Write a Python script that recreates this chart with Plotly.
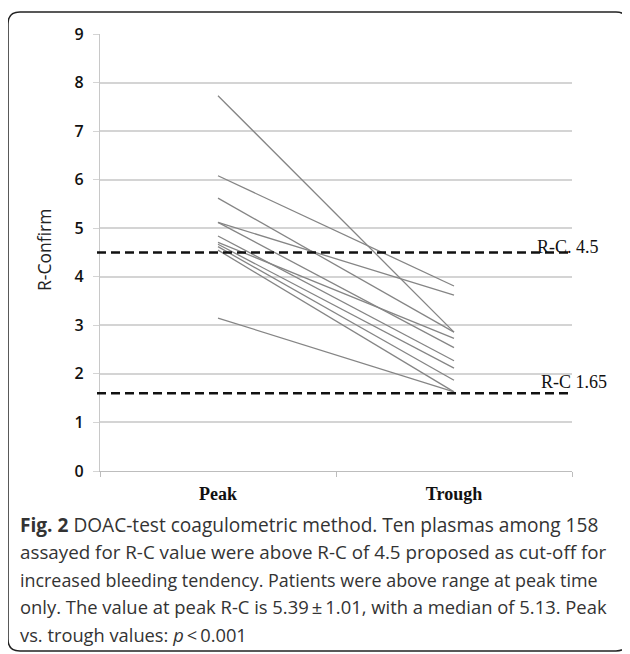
import plotly.graph_objects as go

# ---- data ----
categories = ["Peak", "Trough"]
peak_values = [7.73, 6.08, 5.62, 5.12, 5.12, 4.84, 4.71, 4.67, 4.62, 4.55, 3.15]
trough_values = [2.86, 3.81, 2.86, 3.62, 2.54, 2.27, 2.73, 2.12, 1.87, 1.63, 1.63]
cutoff_values = [4.5, 1.6]
cutoff_labels = ["R-C. 4.5", "R-C 1.65"]
y_ticks = list(range(0, 10))
caption_lines = [
    "<b>Fig. 2</b> DOAC-test coagulometric method. Ten plasmas among 158",
    "assayed for R-C value were above R-C of 4.5 proposed as cut-off for",
    "increased bleeding tendency. Patients were above range at peak time",
    "only. The value at peak R-C is 5.39\u2009\u00b1\u20091.01, with a median of 5.13. Peak",
    "vs. trough values: <i>p</i>\u2009<\u20090.001",
]
caption_sizes = [19.1, 18.8, 17.9, 18.4, 18.3]

# page body has an 8px margin, so work in page pixels and shift by OFF
OFF = 8
W, H = 630 - OFF, 654 - OFF
PL, PR, PT, PB = 100, 572, 34, 471  # plot area in page pixels
ML, MR, MT, MB = PL - OFF, 630 - PR, PT - OFF, 654 - PB


def px(x):
    return (x - PL) / (PR - PL)


def py(y):
    return (PB - y) / (PB - PT)


fig = go.Figure()
for p, t in zip(peak_values, trough_values):
    fig.add_trace(go.Scatter(
        x=categories, y=[p, t], mode="lines",
        line=dict(color="#858585", width=1.3),
        showlegend=False, hoverinfo="skip"))

shapes = []
for v in cutoff_values:
    shapes.append(dict(type="line", xref="paper", yref="y",
                       x0=px(97), x1=px(570), y0=v, y1=v,
                       line=dict(color="#111111", width=2.5, dash="9px,5px")))

# rounded border
bx0, by0, bx1, by1, r = 8, 12, 628, 651, 12


def P(x, y):
    return f"{px(x):.5f},{py(y):.5f}"


path = (f"M {P(bx0 + r, by0)} L {P(bx1 - r, by0)} Q {P(bx1, by0)} {P(bx1, by0 + r)} "
        f"L {P(bx1, by1 - r)} Q {P(bx1, by1)} {P(bx1 - r, by1)} "
        f"L {P(bx0 + r, by1)} Q {P(bx0, by1)} {P(bx0, by1 - r)} "
        f"L {P(bx0, by0 + r)} Q {P(bx0, by0)} {P(bx0 + r, by0)} Z")
shapes.append(dict(type="path", xref="paper", yref="paper", path=path,
                   line=dict(color="#222222", width=1.5), layer="below"))

annotations = []
label_pos = [(535, 247), (539, 382)]
for lab, (lx, ly) in zip(cutoff_labels, label_pos):
    annotations.append(dict(text=lab, xref="paper", yref="paper", x=px(lx), y=py(ly),
                            xanchor="left", yanchor="middle", showarrow=False,
                            font=dict(family="Liberation Serif", size=18, color="#111111")))

annotations.append(dict(text="R-Confirm", xref="paper", yref="paper", x=px(44), y=py(250),
                        xanchor="center", yanchor="middle", textangle=-90, showarrow=False,
                        font=dict(family="Open Sans", size=17.5, color="#222222")))

for i, (line, fs) in enumerate(zip(caption_lines, caption_sizes)):
    annotations.append(dict(text=line, xref="paper", yref="paper", x=px(18), y=py(525 + i * 27.3),
                            xanchor="left", yanchor="middle", showarrow=False,
                            font=dict(family="Open Sans", size=fs, color="#333333")))

fig.update_layout(
    width=W, height=H,
    margin=dict(l=ML, r=MR, t=MT, b=MB),
    paper_bgcolor="white", plot_bgcolor="white",
    shapes=shapes, annotations=annotations,
    xaxis=dict(type="category", categoryorder="array", categoryarray=categories,
               range=[-0.5, 1.5], tickson="boundaries", ticks="outside", ticklen=5,
               tickcolor="#bdbdbd", showline=True, linecolor="#bdbdbd", linewidth=1.2,
               showgrid=False, zeroline=False, ticklabelstandoff=6,
               tickfont=dict(family="Liberation Serif", size=18, color="#111111", weight="bold")),
    yaxis=dict(range=[0, 9], tickvals=y_ticks, ticks="outside", ticklen=6,
               tickcolor="#d4d4d4", showline=True, linecolor="#c8c8c8", linewidth=1.2,
               showgrid=True, gridcolor="#d4d4d4", gridwidth=1.5, zeroline=False,
               ticklabelstandoff=6,
               tickfont=dict(family="Open Sans", size=16, color="#111111", weight=600)),
)

fig.write_html("out.html")
